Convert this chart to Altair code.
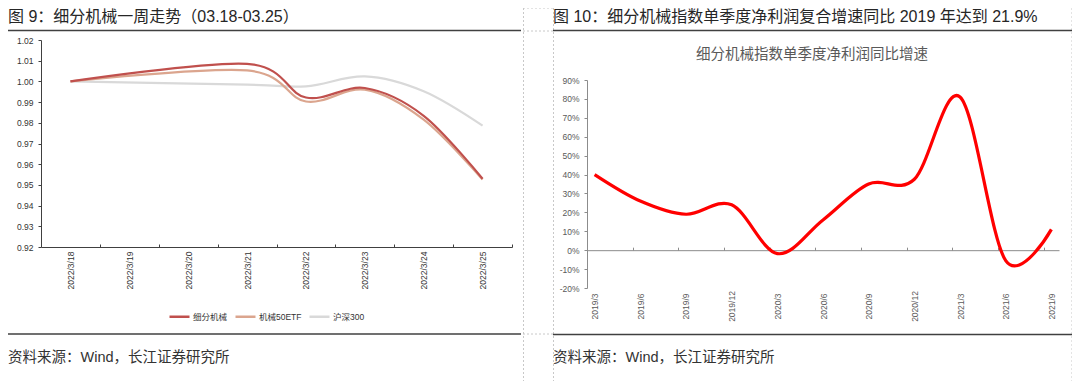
import json
import altair as alt
import pandas as pd

# ---------------- Left panel (图 9) data ----------------
day_labels = ['2022/3/18', '2022/3/19', '2022/3/20', '2022/3/21',
              '2022/3/22', '2022/3/23', '2022/3/24', '2022/3/25']
trade_days = ['2022/3/18', '2022/3/21', '2022/3/22', '2022/3/23', '2022/3/24', '2022/3/25']
series_names = ['细分机械', '机械50ETF', '沪深300']
jx_values = [1.000, 1.0085, 0.9922, 0.9968, 0.9834, 0.9530]
etf_values = [1.000, 1.0053, 0.9903, 0.9960, 0.9815, 0.9526]
hs300_values = [1.000, 0.9984, 0.9976, 1.0024, 0.9952, 0.9786]
left_y_ticks = [0.92, 0.93, 0.94, 0.95, 0.96, 0.97, 0.98, 0.99, 1.00, 1.01, 1.02]
left_colors = ['#C0504D', '#DBA58E', '#D9D9D9']

# ---------------- Right panel (图 10) data ----------------
quarters = ['2019/3', '2019/6', '2019/9', '2019/12', '2020/3', '2020/6',
            '2020/9', '2020/12', '2021/3', '2021/6', '2021/9']
growth_pct = [40, 26, 19, 24, -1.8, 16, 35, 37.5, 81, -5.5, 11]
right_y_ticks = [-20, -10, 0, 10, 20, 30, 40, 50, 60, 70, 80, 90]

# ---------------- texts ----------------
title_left = '图 9：细分机械一周走势（03.18-03.25）'
title_right = '图 10：细分机械指数单季度净利润复合增速同比 2019 年达到 21.9%'
inner_title_right = '细分机械指数单季度净利润同比增速'
source_text = '资料来源：Wind，长江证券研究所'

FONT = 'Liberation Sans, Noto Sans CJK SC'
W, H = 1064, 373

# ---------------- tables ----------------
rows = []
for name, vals in [('沪深300', hs300_values), ('机械50ETF', etf_values), ('细分机械', jx_values)]:
    for d, v in zip(trade_days, vals):
        rows.append({'series': name, 'day': day_labels.index(d), 'value': v})
df_left = pd.DataFrame(rows)

df_right = pd.DataFrame({
    'quarter': quarters,
    'month': [(int(q.split('/')[0]) - 2019) * 12 + int(q.split('/')[1]) - 3 for q in quarters],
    'pct': growth_pct,
})

# ---------------- scales ----------------
xL = alt.Scale(domain=[-0.5, len(day_labels) - 0.5], range=[33, 504], nice=False, zero=False)
yL = alt.Scale(domain=[0.92, 1.02], range=[239, 32], nice=False, zero=False)
n_months = df_right['month'].max() + 1
xR = alt.Scale(domain=[-0.5, n_months - 0.5], range=[579, 1051], nice=False, zero=False)
yR = alt.Scale(domain=[-20, 90], range=[280, 72], nice=False, zero=False)
zero_y = 72 + (90 / 110) * (280 - 72)

left_label_expr = json.dumps(day_labels) + '[datum.value]'
right_label_expr = json.dumps(quarters) + '[round(datum.value / 3)]'

# ---------------- left panel ----------------
left_lines = alt.Chart(df_left).mark_line(interpolate='cardinal', strokeWidth=2.2).encode(
    x=alt.X('day:Q', scale=xL, axis=alt.Axis(
        orient='bottom', offset=239 - H, values=list(range(len(day_labels))),
        labelExpr=left_label_expr, domain=False, ticks=False, tickSize=0,
        labelPadding=23, labelAngle=270, labelAlign='center', labelBaseline='middle',
        labelFontSize=8.5, labelFont=FONT, labelColor='#333333', grid=False, title=None,
        labelOverlap=False, labelFlush=False)),
    y=alt.Y('value:Q', scale=yL, axis=alt.Axis(
        orient='left', offset=-33, values=left_y_ticks, format='.2f', tickSize=3,
        labelPadding=5, domainColor='#404040', tickColor='#404040', labelFontSize=8.5,
        labelFont=FONT, labelColor='#333333', grid=False, title=None, labelOverlap=False,
        labelFlush=False)),
    color=alt.Color('series:N', scale=alt.Scale(domain=series_names, range=left_colors),
                    legend=alt.Legend(orient='none', legendX=160, legendY=297,
                                      direction='horizontal', title=None, symbolType='stroke',
                                      symbolSize=400, symbolStrokeWidth=2.5, labelFontSize=8.5,
                                      labelFont=FONT, labelColor='#333333', columnPadding=2,
                                      labelOffset=2, padding=0)),
)

left_ticks = alt.Chart(df_left).mark_point(opacity=0).encode(
    x=alt.X('day:Q', scale=xL, axis=alt.Axis(
        orient='top', offset=-239, values=[i + 0.5 for i in range(len(day_labels))],
        labels=False, tickSize=3, domainColor='#404040', tickColor='#404040',
        grid=False, title=None)),
    y=alt.Y('value:Q', scale=yL, axis=None),
)

# ---------------- right panel ----------------
right_line = alt.Chart(df_right).mark_line(interpolate='cardinal', strokeWidth=3.2, color='#FF0000').encode(
    x=alt.X('month:Q', scale=xR, axis=alt.Axis(
        orient='bottom', offset=280 - H, values=list(df_right['month']),
        labelExpr=right_label_expr, domain=False, ticks=False, tickSize=0,
        labelPadding=18, labelAngle=270, labelAlign='center', labelBaseline='middle',
        labelFontSize=8.5, labelFont=FONT, labelColor='#595959', grid=False, title=None,
        labelOverlap=False, labelFlush=False)),
    y=alt.Y('pct:Q', scale=yR, axis=alt.Axis(
        orient='left', offset=-579, values=right_y_ticks, labelExpr="datum.value + '%'",
        tickSize=3, labelPadding=5, domainColor='#8C8C8C', tickColor='#8C8C8C',
        labelFontSize=8.5, labelFont=FONT, labelColor='#595959', grid=False, title=None,
        labelOverlap=False, labelFlush=False)),
)

right_ticks = alt.Chart(df_right).mark_point(opacity=0).encode(
    x=alt.X('month:Q', scale=xR, axis=alt.Axis(
        orient='top', offset=-zero_y, values=[m + 2.5 for m in df_right['month'][:-1]],
        labels=False, tickSize=3, domainColor='#8C8C8C', tickColor='#8C8C8C',
        grid=False, title=None)),
    y=alt.Y('pct:Q', scale=yR, axis=None),
)

# ---------------- decorations ----------------
one = pd.DataFrame({'d': [0]})


def text_layer(txt, x, y, size, color, align='left'):
    return alt.Chart(pd.DataFrame({'t': [txt]})).mark_text(
        align=align, baseline='middle', fontSize=size, font=FONT, color=color
    ).encode(text='t:N', x=alt.value(x), y=alt.value(y))


def hrule(x1, x2, y, color, width, dash=None):
    kw = dict(color=color, strokeWidth=width)
    if dash:
        kw['strokeDash'] = dash
    return alt.Chart(one).mark_rule(**kw).encode(x=alt.value(x1), x2=alt.value(x2), y=alt.value(y))


def vrule(x, y1, y2, color, width, dash=None):
    kw = dict(color=color, strokeWidth=width)
    if dash:
        kw['strokeDash'] = dash
    return alt.Chart(one).mark_rule(**kw).encode(x=alt.value(x), y=alt.value(y1), y2=alt.value(y2))


DASH = '#C8C8C8'
decor = [
    vrule(515.5, 0, 377, DASH, 1, [2, 2]),
    vrule(545.5, 0, 377, DASH, 1, [2, 2]),
    vrule(1064, 0, 377, DASH, 1, [2, 2]),
    hrule(0, 1064, 377, DASH, 1, [2, 2]),
    hrule(515, 545, 0, DASH, 1, [2, 2]),
    hrule(515, 545, 23, DASH, 1, [2, 2]),
    hrule(515, 545, 326, DASH, 1, [2, 2]),
    hrule(0, 513, 22.5, '#404040', 1.5),
    hrule(545, 1065, 22.5, '#404040', 1.5),
    hrule(0, 513, 326, '#404040', 1.5),
    hrule(545, 1065, 326.5, '#404040', 1.5),
    text_layer(title_left, 0, 9, 16, '#262626'),
    text_layer(title_right, 545, 9, 16, '#262626'),
    text_layer(source_text, 0, 350, 14.5, '#333333'),
    text_layer(source_text, 545, 350, 14.5, '#333333'),
    text_layer(inner_title_right, 804, 47, 14.5, '#595959', align='center'),
]

chart = alt.layer(
    left_ticks, left_lines, right_ticks, right_line, *decor
).resolve_scale(
    x='independent', y='independent'
).properties(
    width=W, height=H, padding=0,
    autosize=alt.AutoSizeParams(type='none'),
).configure_view(stroke=None)

chart.save('out.html', embed_options={'renderer': 'svg', 'actions': False})
